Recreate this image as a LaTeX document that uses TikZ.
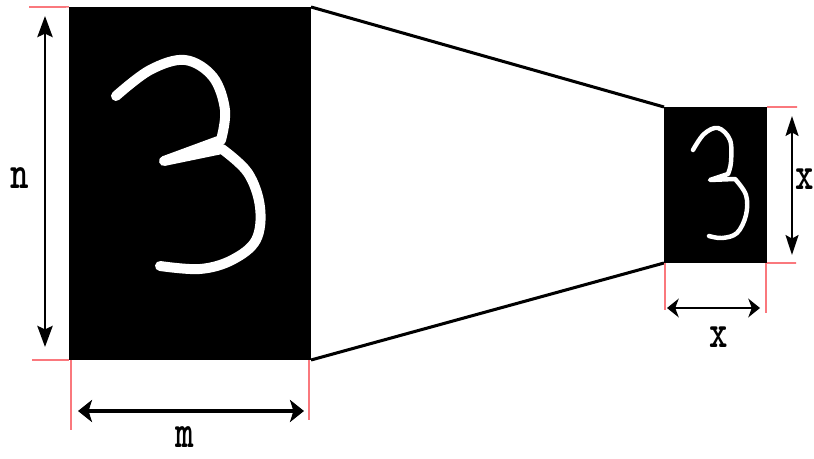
\documentclass[tikz,border=0pt]{standalone}
\usetikzlibrary{arrows.meta,positioning}

\begin{document}
\begin{tikzpicture}[x=0.03cm,y=-0.03cm,
  img/.style={fill=black,inner sep=0pt,outer sep=0pt},
  tick/.style={draw={rgb,255:red,250;green,120;blue,125},line width=1.3pt},
  vdim/.style={<->,line width=2.4pt,>={Stealth[length=18pt,width=13pt,inset=3pt]}},
  hdim/.style={<->,line width=3pt,>={Stealth[length=12pt,width=19pt,inset=3pt]}},
  lbl/.style={font=\ttfamily\bfseries\fontsize{30}{30}\selectfont,inner sep=0pt,yscale=1.35},
  digit/.style={white,line cap=round,line join=round}]
\clip (0,0) rectangle (814,459);
\useasboundingbox (0,0) rectangle (814,459);
% images
\node[img,minimum width=7.26cm,minimum height=10.59cm] (big) at (190,183.5) {};
\node[img,minimum width=3.09cm,minimum height=4.68cm] (small) at (715.5,185) {};
\draw[line width=2.6pt] (big.north east) -- (small.north west);
\draw[line width=2.6pt] (big.south east) -- (small.south west);
% hand written threes
\draw[digit,line width=8.5pt] plot[smooth,tension=0.6] coordinates {(116,96) (150,70) (185,60) (213,77) (225,110) (221,140)}
  -- (164,161) -- (222,149) plot[smooth,tension=0.6] coordinates {(222,149) (248,173) (260,207) (256,240) (232,260) (200,269) (160,266)};
\draw[digit,line width=3.8pt] plot[smooth,tension=0.6] coordinates {(693,150) (704,134) (718,128) (730,140) (731,162) (728,174)}
  -- (710,180) -- (735,179) plot[smooth,tension=0.6] coordinates {(735,179) (746,195) (746,215) (737,233) (722,238) (709,236)};
% red extension lines
\draw[tick] (29,7) -- (big.north west);
\draw[tick] (32,360) -- (big.south west);
\draw[tick] (71,360) -- (71,430);
\draw[tick] (309,360) -- (309,420);
\draw[tick] (small.north east) -- (797,107);
\draw[tick] (small.south east) -- (796,263);
\draw[tick] (665,263) -- (665,310);
\draw[tick] (766,263) -- (766,313);
% dimensions
\coordinate (nt) at (45,16);   \coordinate (nb) at (45,347);
\coordinate (ml) at (78,411);  \coordinate (mr) at (304,411);
\coordinate (xt) at (792,116); \coordinate (xb) at (792,255);
\coordinate (xl) at (667,308); \coordinate (xr) at (760,308);
\draw[vdim] (nt) -- (nb);
\draw[hdim] (ml) -- (mr);
\draw[vdim,line width=2pt,>={Stealth[length=17pt,width=11pt,inset=3pt]}] (xt) -- (xb);
\draw[hdim,line width=2.4pt,>={Stealth[length=10pt,width=16pt,inset=3pt]}] (xl) -- (xr);
\node[lbl] (n) at (20,178) {n};
\node[lbl] (m) at (185,437) {m};
\node[lbl] (xh) at (719,337) {x};
\node[lbl] (xv) at (805,179) {x};
\end{tikzpicture}
\end{document}
